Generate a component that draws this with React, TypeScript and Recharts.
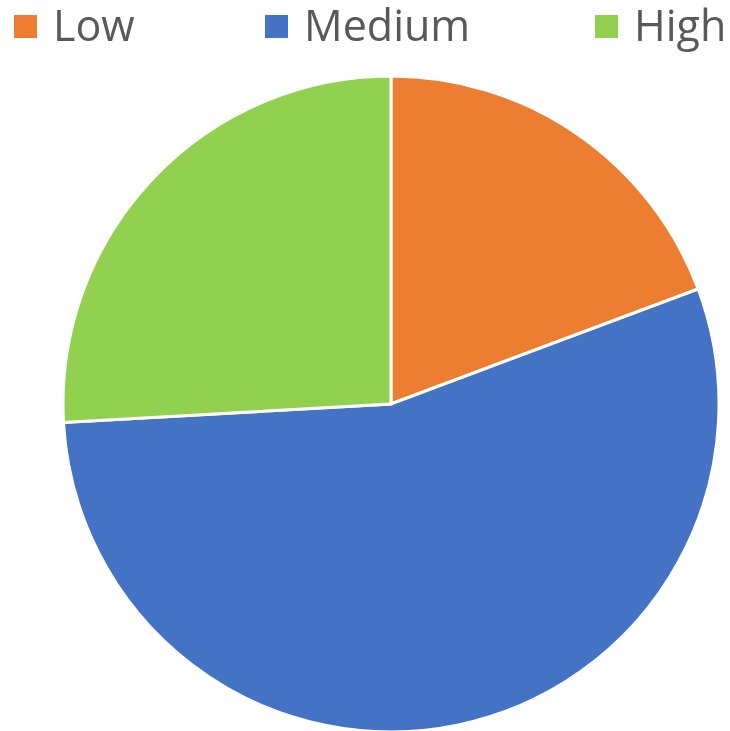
import React from "react";
import { PieChart, Pie, Cell, Legend } from "recharts";

const categories = ["Low", "Medium", "High"];
const values = [19.3, 54.8, 25.9];
const colors = ["#ED7D31", "#4472C4", "#92D050"];

const data = categories.map((name, i) => ({ name, value: values[i] }));

const legendX = [6, 257, 587];
const LEGEND_H = 50;

const renderLegend = () => (
  <div style={{ position: "relative", width: 722, height: LEGEND_H, overflow: "visible" }}>
    {categories.map((c, i) => (
      <React.Fragment key={c}>
        <div
          style={{
            position: "absolute",
            left: legendX[i],
            top: 7,
            width: 23,
            height: 23,
            background: colors[i],
          }}
        />
        <div
          style={{
            position: "absolute",
            left: legendX[i] + 39,
            top: -3,
            height: 40,
            lineHeight: "40px",
            fontFamily: "'Open Sans', sans-serif",
            fontSize: 43,
            color: "#595959",
            whiteSpace: "nowrap",
          }}
        >
          {c}
        </div>
      </React.Fragment>
    ))}
  </div>
);

export default function App() {
  return (
    <div style={{ position: "fixed", left: 8, top: 8, width: 722, height: 723 }}>
      <PieChart width={722} height={723} margin={{ top: 0, right: 0, bottom: 0, left: 0 }}>
        <Legend
          content={renderLegend}
          verticalAlign="top"
          height={LEGEND_H}
          wrapperStyle={{ top: 0, left: 0, width: 722, height: LEGEND_H, overflow: "visible" }}
        />
        <Pie
          data={data}
          dataKey="value"
          nameKey="name"
          cx={383}
          cy={396 - LEGEND_H}
          outerRadius={328}
          startAngle={90}
          endAngle={-270}
          stroke="#ffffff"
          strokeWidth={3}
          isAnimationActive={false}
        >
          {data.map((d, i) => (
            <Cell key={d.name} fill={colors[i]} />
          ))}
        </Pie>
      </PieChart>
    </div>
  );
}
